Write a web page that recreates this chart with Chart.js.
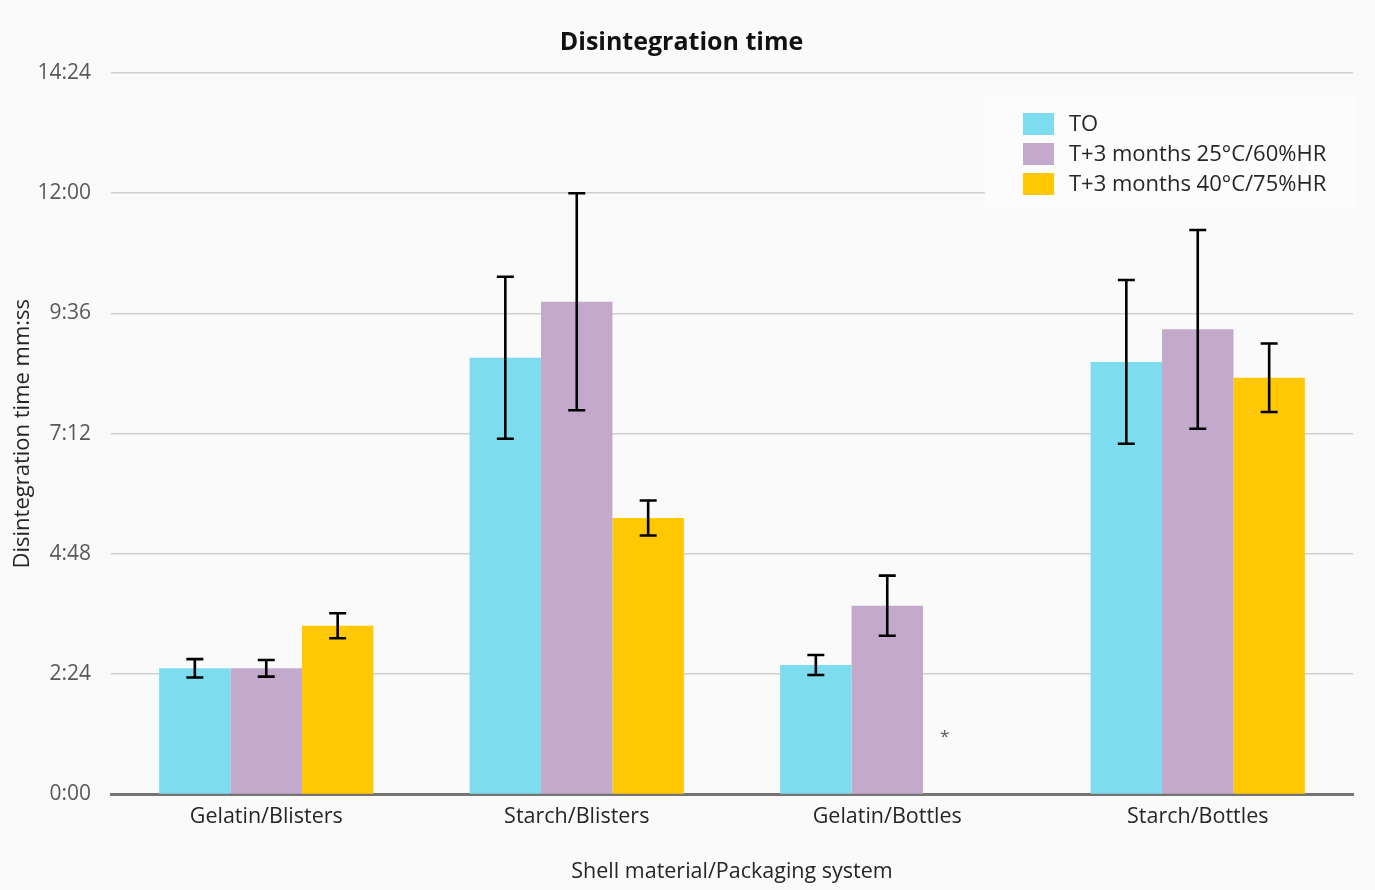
<!DOCTYPE html>
<html>
<head>
<meta charset="utf-8">
<script src="https://cdn.jsdelivr.net/npm/chart.js@4.4.0/dist/chart.umd.min.js"></script>
<style>
  html, body { margin: 0; padding: 0; background: #fafafa; }
  #wrap { width: 1375px; height: 890px; position: relative; }
</style>
</head>
<body>
<div id="wrap"><canvas id="c" width="1375" height="890"></canvas></div>
<script>
// Data (values in seconds)
const categories = ['Gelatin/Blisters', 'Starch/Blisters', 'Gelatin/Bottles', 'Starch/Bottles'];
const seriesNames = ['TO', 'T+3 months 25°C/60%HR', 'T+3 months 40°C/75%HR'];
const valuesT0 = [151, 523, 155, 518];
const values25 = [151, 590, 226, 557];
const values40 = [202, 331, null, 499];
const errT0 = [11, 97, 12, 98];
const err25 = [10, 130, 36, 119];
const err40 = [15, 21, null, 41];
const yTickStep = 144;   // 2:24
const yMax = 864;        // 14:24
const asteriskNote = { category: 2, series: 2, value: 68, text: '*' };

const colors = ['#7DDCEE', '#C3A9CB', '#FFC800'];
const seriesValues = [valuesT0, values25, values40];
const seriesErrors = [errT0, err25, err40];

function fmt(sec) {
  const m = Math.floor(sec / 60);
  const s = Math.round(sec - m * 60);
  return m + ':' + (s < 10 ? '0' : '') + s;
}

const FONT = '"Open Sans", "Segoe UI", sans-serif';

const bgPlugin = {
  id: 'bg',
  beforeDraw(chart) {
    const ctx = chart.ctx;
    ctx.save();
    ctx.fillStyle = '#fafafa';
    ctx.fillRect(0, 0, chart.width, chart.height);
    ctx.restore();
  }
};

const errorBarPlugin = {
  id: 'errorBars',
  afterDatasetsDraw(chart) {
    const ctx = chart.ctx;
    const y = chart.scales.y;
    ctx.save();
    ctx.strokeStyle = '#000';
    ctx.lineWidth = 2.6;
    chart.data.datasets.forEach((ds, i) => {
      const meta = chart.getDatasetMeta(i);
      meta.data.forEach((bar, j) => {
        const v = ds.data[j];
        const e = seriesErrors[i][j];
        if (v == null || e == null) return;
        const x = bar.x;
        const yt = y.getPixelForValue(v + e);
        const yb = y.getPixelForValue(v - e);
        const cap = 8.5;
        ctx.beginPath();
        ctx.moveTo(x, yt); ctx.lineTo(x, yb);
        ctx.moveTo(x - cap, yt); ctx.lineTo(x + cap, yt);
        ctx.moveTo(x - cap, yb); ctx.lineTo(x + cap, yb);
        ctx.stroke();
      });
    });
    // asterisk note
    const meta = chart.getDatasetMeta(asteriskNote.series);
    const bar = meta.data[asteriskNote.category];
    if (bar) {
      ctx.fillStyle = '#595959';
      ctx.font = '17px ' + FONT;
      ctx.textAlign = 'center';
      ctx.textBaseline = 'middle';
      ctx.fillText(asteriskNote.text, bar.x - 14, y.getPixelForValue(asteriskNote.value));
    }
    ctx.restore();
  }
};

const legendPlugin = {
  id: 'customLegend',
  afterDatasetsDraw(chart) {
    const ctx = chart.ctx;
    const area = chart.chartArea;
    ctx.save();
    ctx.fillStyle = '#fcfcfc';
    ctx.fillRect(985, 95, area.right + 4 - 985, 112);
    ctx.font = '22px ' + FONT;
    ctx.textBaseline = 'middle';
    ctx.textAlign = 'left';
    chart.data.datasets.forEach((ds, i) => {
      const cy = 124 + i * 30;
      ctx.fillStyle = ds.backgroundColor;
      ctx.fillRect(1023, cy - 11, 31, 22);
      ctx.fillStyle = '#262626';
      ctx.fillText(ds.label, 1069, cy + 1);
    });
    ctx.restore();
  }
};

new Chart(document.getElementById('c'), {
  type: 'bar',
  data: {
    labels: categories,
    datasets: seriesNames.map((n, i) => ({
      label: n,
      data: seriesValues[i],
      backgroundColor: colors[i],
      borderWidth: 0,
      categoryPercentage: 0.69,
      barPercentage: 1.0
    }))
  },
  plugins: [bgPlugin, errorBarPlugin, legendPlugin],
  options: {
    responsive: false,
    animation: false,
    devicePixelRatio: 1,
    layout: { padding: { left: 10, right: 22, top: 4, bottom: 5.5 } },
    plugins: {
      legend: { display: false },
      tooltip: { enabled: false },
      title: {
        display: true,
        text: 'Disintegration time',
        color: '#111',
        font: { family: FONT, size: 25, weight: 'bold' },
        padding: { top: 24, bottom: 15 }
      }
    },
    scales: {
      x: {
        grid: { display: false, drawTicks: false },
        border: { display: true, color: '#757575', width: 3 },
        ticks: { color: '#262626', font: { family: FONT, size: 21.5 }, padding: 10 },
        title: {
          display: true,
          text: 'Shell material/Packaging system',
          color: '#262626',
          font: { family: FONT, size: 21.5 },
          padding: { top: 18.5, bottom: 0 }
        }
      },
      y: {
        min: 0,
        max: yMax,
        afterFit(scale) { scale.width = 101; },
        grid: { color: '#d0d0d0', lineWidth: 1.5, drawTicks: false },
        border: { display: false },
        ticks: {
          stepSize: yTickStep,
          color: '#595959',
          font: { family: FONT, size: 21 },
          padding: 20,
          callback: (v) => fmt(v)
        },
        title: {
          display: true,
          text: 'Disintegration time mm:ss',
          color: '#262626',
          font: { family: FONT, size: 22 },
          padding: { top: 0, bottom: 0 }
        }
      }
    }
  }
});
</script>
</body>
</html>
